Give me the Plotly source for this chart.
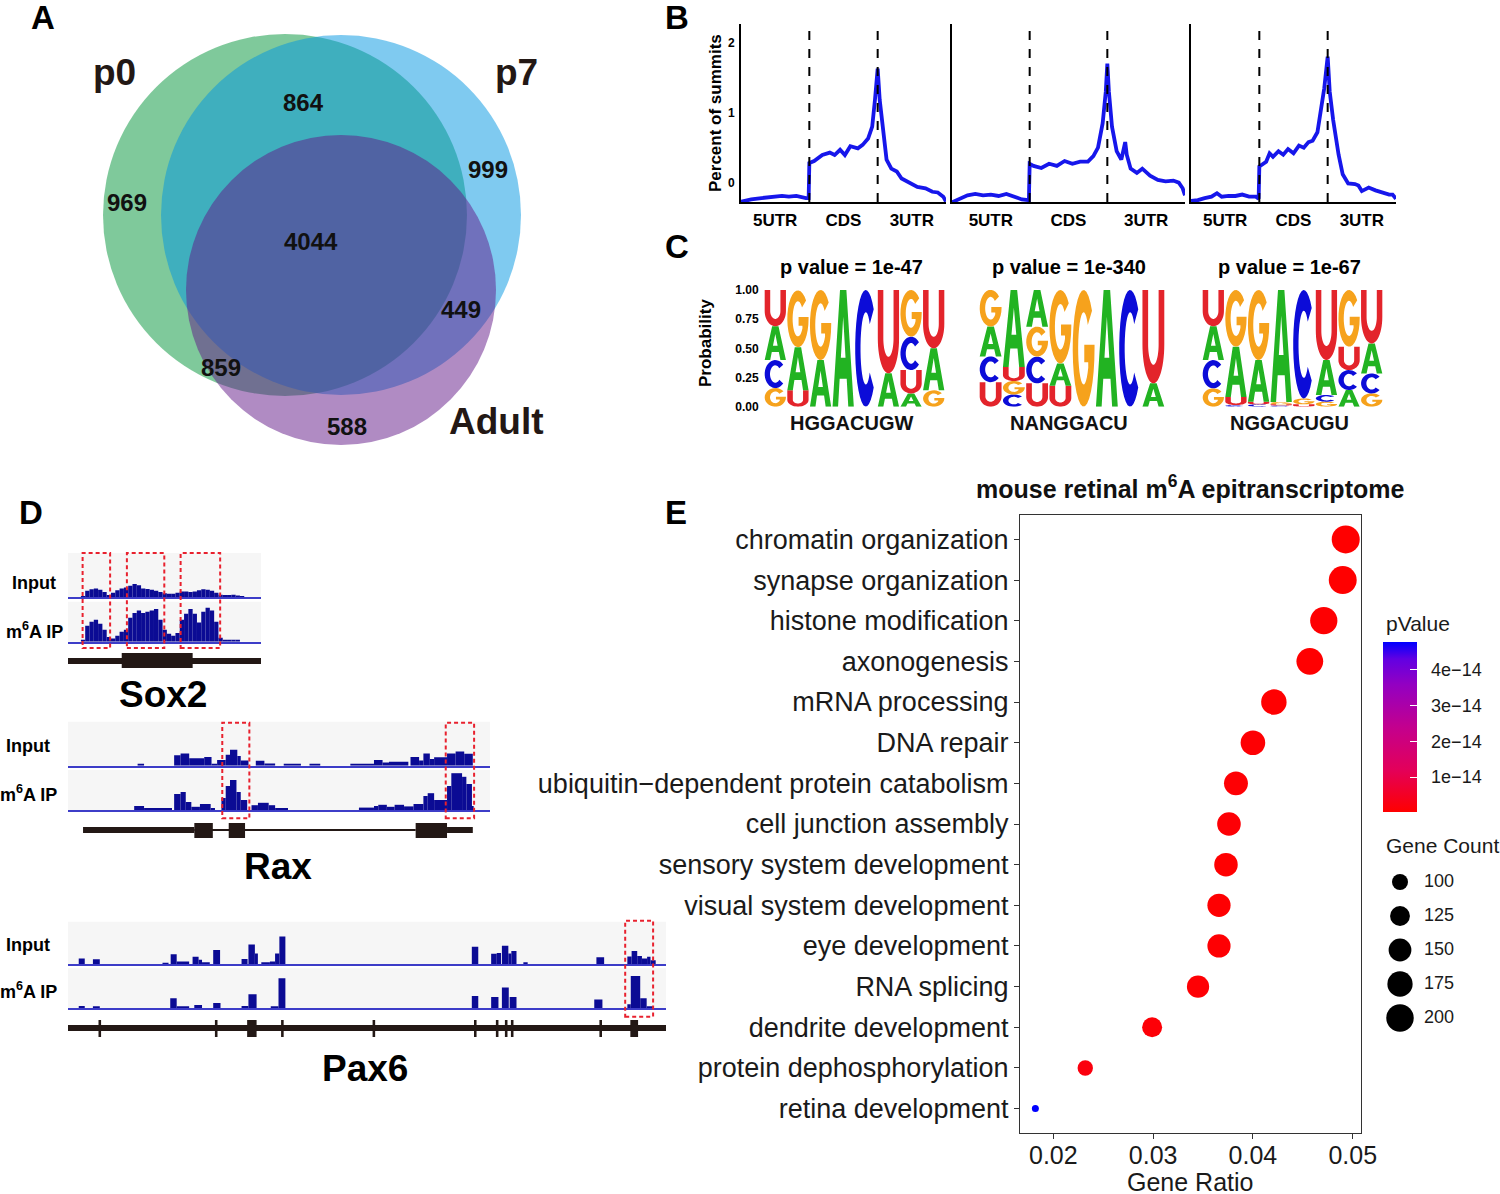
import numpy as np
import plotly.graph_objects as go

W, H = 1500, 1194
FONT = "Liberation Sans, Arial, Helvetica, sans-serif"

# ======================= DATA =======================
# ---- A: Venn diagram ----
venn_set_labels = ["p0", "p7", "Adult"]
venn_region_names = ["p0 only", "p0 & p7", "p7 only", "all three", "p7 & Adult", "p0 & Adult", "Adult only"]
venn_region_counts = [969, 864, 999, 4044, 449, 859, 588]

# ---- B: metagene distribution of peak summits ----
meta_regions = ["5UTR", "CDS", "3UTR"]
p0_pos = [0.0, 0.04, 0.15, 0.3, 0.45, 0.6, 0.7, 0.81, 0.95, 0.99, 1.0, 1.07, 1.19, 1.3, 1.37, 1.45, 1.52, 1.6, 1.71, 1.78,
          1.86, 1.92, 1.96, 2.0, 2.03, 2.08, 2.13, 2.2, 2.28, 2.35, 2.43, 2.5, 2.58, 2.7, 2.8, 2.88, 2.96, 3.0]
p0_pct = [-0.27, -0.26, -0.24, -0.22, -0.21, -0.19, -0.2, -0.19, -0.22, -0.22, 0.28, 0.31, 0.395, 0.43, 0.395, 0.47, 0.395, 0.52, 0.49, 0.54,
          0.63, 0.8, 1.18, 1.63, 1.18, 0.71, 0.33, 0.2, 0.16, 0.06, 0.015, -0.03, -0.06, -0.08, -0.13, -0.14, -0.2, -0.27]
p7_pos = [0.0, 0.1, 0.2, 0.3, 0.4, 0.5, 0.6, 0.7, 0.8, 0.9, 0.99, 1.0, 1.05, 1.15, 1.25, 1.35, 1.45, 1.55, 1.65, 1.75,
          1.82, 1.88, 1.94, 1.98, 2.0, 2.02, 2.06, 2.12, 2.18, 2.21, 2.23, 2.25, 2.3, 2.38, 2.45, 2.55, 2.65, 2.75, 2.85, 2.92,
          2.97, 3.0]
p7_pct = [-0.28, -0.23, -0.18, -0.16, -0.18, -0.17, -0.19, -0.16, -0.2, -0.24, -0.25, 0.27, 0.24, 0.21, 0.27, 0.24, 0.31, 0.27, 0.3, 0.3,
          0.38, 0.5, 0.85, 1.3, 1.7, 1.3, 0.8, 0.45, 0.33, 0.45, 0.58, 0.4, 0.2, 0.14, 0.2, 0.1, 0.04, 0.02, 0.03, 0.0,
          -0.08, -0.18]
adult_pos = [0.0, 0.1, 0.2, 0.3, 0.38, 0.45, 0.55, 0.65, 0.75, 0.85, 0.95, 0.99, 1.0, 1.05, 1.1, 1.15, 1.2, 1.28, 1.35, 1.42,
             1.5, 1.58, 1.65, 1.72, 1.78, 1.85, 1.9, 1.95, 2.0, 2.03, 2.08, 2.12, 2.16, 2.22, 2.3, 2.4, 2.45, 2.5, 2.6, 2.7,
             2.8, 2.9, 2.95, 3.0]
adult_pct = [-0.26, -0.25, -0.22, -0.2, -0.15, -0.2, -0.19, -0.19, -0.17, -0.2, -0.2, -0.23, 0.23, 0.26, 0.3, 0.42, 0.37, 0.45, 0.4, 0.48,
             0.42, 0.53, 0.5, 0.58, 0.6, 0.72, 1.0, 1.35, 1.8, 1.3, 0.9, 0.6, 0.4, 0.12, -0.01, -0.02, -0.04, -0.12, -0.07, -0.11,
             -0.14, -0.17, -0.17, -0.23]

# ---- C: motif logos (probability per position) ----
motif_pvalues = ["1e-47", "1e-340", "1e-67"]
motif_consensus = ["HGGACUGW", "NANGGACU", "NGGACUGU"]
logo1_A = [0.29, 0.37, 0.40, 1.00, 0.00, 0.286, 0.114, 0.36]
logo1_C = [0.24, 0.00, 0.00, 0.00, 1.00, 0.00, 0.286, 0.00]
logo1_G = [0.16, 0.486, 0.60, 0.00, 0.00, 0.00, 0.40, 0.14]
logo1_U = [0.31, 0.14, 0.00, 0.00, 0.00, 0.714, 0.20, 0.50]
logo2_A = [0.257, 0.66, 0.314, 0.19, 0.00, 1.00, 0.00, 0.20]
logo2_C = [0.22, 0.105, 0.229, 0.00, 0.00, 0.00, 1.00, 0.00]
logo2_G = [0.314, 0.115, 0.257, 0.63, 1.00, 0.00, 0.00, 0.00]
logo2_U = [0.21, 0.12, 0.20, 0.18, 0.00, 0.00, 0.00, 0.80]
logo3_A = [0.29, 0.43, 0.357, 0.96, 0.00, 0.30, 0.143, 0.257]
logo3_C = [0.243, 0.014, 0.02, 0.01, 0.93, 0.057, 0.171, 0.171]
logo3_G = [0.157, 0.486, 0.60, 0.02, 0.05, 0.043, 0.486, 0.114]
logo3_U = [0.31, 0.07, 0.023, 0.01, 0.02, 0.60, 0.20, 0.543]

# ---- D: coverage tracks (relative genomic position, normalised depth) ----
sox2_len = 449
sox2_bin = 10
sox2_input = [0, 0, 0, 0.03, 0.15, 0.18, 0.2, 0.17, 0.12, 0.05, 0.1, 0.16, 0.2, 0.22, 0.26, 0.3, 0.27, 0.2, 0.19, 0.17,
              0.15, 0.12, 0.09, 0.08, 0.08, 0.1, 0.13, 0.13, 0.12, 0.13, 0.16, 0.18, 0.17, 0.15, 0.1, 0.06, 0.05, 0.05, 0.06, 0.04,
              0.02, 0, 0, 0, 0]
sox2_ip = [0, 0, 0, 0.05, 0.4, 0.5, 0.55, 0.45, 0.3, 0.12, 0.08, 0.15, 0.25, 0.3, 0.6, 0.72, 0.78, 0.72, 0.75, 0.78,
           0.82, 0.55, 0.3, 0.2, 0.15, 0.22, 0.55, 0.7, 0.82, 0.7, 0.48, 0.75, 0.85, 0.78, 0.5, 0.1, 0.05, 0.05, 0.04, 0.03,
           0, 0, 0, 0, 0]
sox2_utr = [(0, 449)]
sox2_cds = [(125, 290)]
sox2_peaks = [(34, 98), (137, 224), (262, 354)]

rax_len = 982
rax_input_start = [162, 247, 262, 282, 317, 334, 347, 367, 377, 394, 402, 437, 457, 502, 562, 657, 712, 732, 747, 797,
                   817, 827, 842, 852, 882, 902, 922]
rax_input_end = [177, 262, 282, 317, 334, 347, 367, 377, 394, 402, 420, 457, 482, 542, 587, 712, 732, 747, 792, 817,
                 827, 842, 852, 882, 902, 922, 942]
rax_input_depth = [0.04, 0.24, 0.28, 0.17, 0.2, 0.03, 0.13, 0.25, 0.36, 0.22, 0.12, 0.11, 0.05, 0.04, 0.03, 0.04, 0.13, 0.07, 0.09, 0.2,
                   0.12, 0.28, 0.15, 0.19, 0.28, 0.32, 0.27]
rax_ip_start = [154, 177, 247, 262, 274, 287, 307, 332, 357, 367, 377, 392, 402, 427, 442, 467, 482, 677, 712, 722,
                742, 760, 782, 804, 827, 837, 852, 882, 892, 917, 927, 940]
rax_ip_end = [177, 242, 262, 274, 287, 307, 332, 342, 367, 377, 392, 402, 417, 442, 467, 482, 512, 712, 722, 742,
              760, 782, 804, 827, 837, 852, 882, 892, 917, 927, 940, 944]
rax_ip_depth = [0.1, 0.04, 0.4, 0.45, 0.2, 0.08, 0.15, 0.04, 0.3, 0.6, 0.75, 0.45, 0.25, 0.12, 0.18, 0.12, 0.04, 0.06, 0.1, 0.13,
                0.08, 0.13, 0.09, 0.15, 0.35, 0.42, 0.25, 0.6, 0.92, 0.83, 0.65, 0.1]
rax_utr = [(35, 294), (882, 942)]
rax_intron = [(294, 809)]
rax_exons = [(294, 337), (374, 412), (809, 882)]
rax_peaks = [(359, 422), (879, 945)]

pax6_len = 1392
pax6_input_start = [25, 58, 220, 239, 253, 290, 304, 312, 338, 404, 420, 435, 450, 470, 482, 492, 940, 985, 998, 1010,
                    1025, 1032, 1060, 1230, 1302, 1312, 1325, 1336, 1348, 1356]
pax6_input_end = [39, 74, 234, 253, 282, 304, 312, 330, 354, 418, 435, 442, 470, 482, 492, 506, 955, 998, 1008, 1025,
                  1032, 1044, 1070, 1248, 1312, 1325, 1336, 1348, 1356, 1368]
pax6_input_depth = [0.13, 0.11, 0.03, 0.23, 0.06, 0.17, 0.1, 0.04, 0.33, 0.12, 0.46, 0.25, 0.04, 0.06, 0.25, 0.65, 0.41, 0.24, 0.26, 0.43,
                    0.25, 0.31, 0.04, 0.16, 0.18, 0.31, 0.19, 0.13, 0.17, 0.09]
pax6_ip_start = [25, 58, 238, 253, 294, 338, 404, 420, 472, 490, 940, 985, 1010, 1028, 1225, 1302, 1310, 1332, 1347]
pax6_ip_end = [39, 74, 253, 282, 312, 355, 420, 439, 490, 506, 955, 1002, 1026, 1044, 1244, 1310, 1332, 1347, 1364]
pax6_ip_depth = [0.06, 0.05, 0.25, 0.05, 0.08, 0.13, 0.06, 0.35, 0.04, 0.75, 0.31, 0.28, 0.52, 0.28, 0.22, 0.1, 0.81, 0.25, 0.05]
pax6_line = [(0, 1392)]
pax6_exons = [(71, 77), (342, 348), (417, 439), (496, 502), (709, 715), (945, 951), (996, 1002), (1017, 1023),
              (1031, 1037), (1237, 1243), (1309, 1327)]
pax6_peaks = [(1297, 1362)]

# ---- E: GO enrichment ----
go_terms = ["chromatin organization", "synapse organization", "histone modification", "axonogenesis",
            "mRNA processing", "DNA repair", "ubiquitin\u2212dependent protein catabolism", "cell junction assembly",
            "sensory system development", "visual system development", "eye development", "RNA splicing",
            "dendrite development", "protein dephosphorylation", "retina development"]
gene_ratio = [0.0493, 0.0490, 0.0471, 0.0457, 0.0421, 0.0400, 0.0383, 0.0376, 0.0373, 0.0366, 0.0366, 0.0345,
              0.0299, 0.0232, 0.0182]
gene_count = [207, 206, 198, 192, 177, 168, 161, 158, 157, 154, 154, 145, 126, 97, 76]
p_value = [3.1e-16, 2.8e-16, 5.2e-16, 3.5e-16, 4.1e-16, 6.3e-16, 7.5e-16, 9.8e-16, 4.4e-16, 5.6e-16, 6.1e-16,
           8.2e-16, 1.2e-15, 2.1e-15, 4.77e-14]
pvalue_ticks = [1e-14, 2e-14, 3e-14, 4e-14]
pvalue_ticktext = ["1e\u221214", "2e\u221214", "3e\u221214", "4e\u221214"]
count_breaks = [100, 125, 150, 175, 200]

# ======================= HELPERS =======================
def X(px):
    return px / W

def Y(py):
    return 1 - py / H

def dom_x(a, b):
    return [a / W, b / W]

def dom_y(top, bottom):
    return [1 - bottom / H, 1 - top / H]

def xr(n):
    return "x" if n == 1 else f"x{n}"

def yr(n):
    return "y" if n == 1 else f"y{n}"

def xk(n):
    return "xaxis" if n == 1 else f"xaxis{n}"

def yk(n):
    return "yaxis" if n == 1 else f"yaxis{n}"

fig = go.Figure()
shapes = []
annotations = []
layout = {}

def ann(text, x, y, size, bold=False, color="black", xanchor="center", yanchor="middle", angle=0):
    annotations.append(dict(text=(f"<b>{text}</b>" if bold else text), x=X(x), y=Y(y), xref="paper", yref="paper",
                            showarrow=False, xanchor=xanchor, yanchor=yanchor, textangle=angle,
                            font=dict(size=size, color=color, family=FONT)))

# panel letters
for lab, (lx, ly) in zip("ABCDE", [(43, 18), (677, 18), (677, 246), (31, 512), (676, 513)]):
    ann(lab, lx, ly, 33, bold=True)

# ======================= A: VENN =======================
venn_circles = [  # (cx, cy, rx, ry) in pixels, colour
    ((285, 215, 182, 181), "rgba(0,147,55,0.5)"),
    ((341, 215, 180, 180), "rgba(0,149,225,0.5)"),
    ((341, 290, 155, 155), "rgba(97,23,135,0.5)"),
]
for (cx, cy, rx, ry), col in venn_circles:
    shapes.append(dict(type="circle", xref="paper", yref="paper", x0=X(cx - rx), x1=X(cx + rx),
                       y0=Y(cy + ry), y1=Y(cy - ry), fillcolor=col, line=dict(width=0), layer="above"))
venn_label_pos = [(115, 72), (516, 72), (496, 421)]
for lab, (lx, ly) in zip(venn_set_labels, venn_label_pos):
    ann(lab, lx, ly, 37, bold=True, color="#231815")
venn_count_pos = [(127, 202), (303, 102), (488, 170), (311, 241), (461, 309), (221, 367), (347, 426)]
for cnt, (lx, ly) in zip(venn_region_counts, venn_count_pos):
    ann(str(cnt), lx, ly, 24, bold=True, color="#111")

# ======================= B: METAGENE =======================
B_LINE = "rgb(22,22,235)"
b_axes = [(3, (741, 946), p0_pos, p0_pct), (4, (952, 1185), p7_pos, p7_pct), (5, (1191, 1396), adult_pos, adult_pct)]
for n, (xa, xb), xs, ys in b_axes:
    fig.add_trace(go.Scatter(x=xs, y=ys, mode="lines", line=dict(color=B_LINE, width=3.8),
                             xaxis=xr(n), yaxis=yr(n), hoverinfo="skip", cliponaxis=False))
    layout[xk(n)] = dict(domain=dom_x(xa, xb), range=[0, 3], anchor=yr(n), showline=True, linecolor="black",
                         linewidth=2, showgrid=False, zeroline=False, tickvals=[0.5, 1.5, 2.5], ticktext=meta_regions,
                         ticks="outside", ticklen=2, tickcolor="rgba(0,0,0,0)", automargin=False,
                         tickfont=dict(size=17, color="black", family=FONT, weight="bold"))
    layout[yk(n)] = dict(domain=dom_y(24, 202), range=[-0.276, 2.267], anchor=xr(n), showline=True,
                         linecolor="black", linewidth=2, showgrid=False, zeroline=False, tickvals=[0, 1, 2],
                         showticklabels=(n == 3), ticks="outside", ticklen=2, tickcolor="rgba(0,0,0,0)",
                         automargin=False, tickfont=dict(size=12, color="black", family=FONT, weight="bold"))
    for bx in (1, 2):
        shapes.append(dict(type="line", xref=xr(n), yref=f"{yr(n)} domain", x0=bx, x1=bx, y0=0, y1=0.96,
                           line=dict(color="black", width=2, dash="dash")))
ann("Percent of summits", 716, 113, 17, bold=True, angle=-90)

# ======================= C: LOGOS =======================
def arc(cx, cy, rx, ry, a0, a1, n=28):
    t = np.radians(np.linspace(a0, a1, n))
    return list(zip(cx + rx * np.cos(t), cy + ry * np.sin(t)))

GLYPHS = {
    "A": [[(0, 0), (0.35, 1), (0.65, 1), (1, 0), (0.74, 0), (0.665, 0.24), (0.335, 0.24), (0.26, 0)],
          [(0.39, 0.42), (0.61, 0.42), (0.5, 0.77)]],
    "C": [arc(0.5, 0.5, 0.5, 0.5, 42, 318) + arc(0.5, 0.5, 0.25, 0.31, 318, 42)],
    "G": [arc(0.5, 0.5, 0.5, 0.5, 40, 360) + [(1, 0.53), (0.53, 0.53), (0.53, 0.38), (0.71, 0.38)]
          + arc(0.5, 0.5, 0.25, 0.31, 328, 40)],
    "U": [[(0, 1)] + arc(0.5, 0.42, 0.5, 0.42, 180, 360) + [(1, 1), (0.74, 1)]
          + arc(0.5, 0.42, 0.24, 0.22, 360, 180) + [(0.26, 1)]],
}
LOGO_COL = {"A": "#22b322", "C": "#0c0cd8", "G": "#f6a21c", "U": "#e3242b"}

def glyph_path(letter, x0, x1, y0, y1):
    parts = []
    for poly in GLYPHS[letter]:
        pts = [(x0 + u * (x1 - x0), y0 + v * (y1 - y0)) for u, v in poly]
        parts.append("M " + " L ".join(f"{a:.4f},{b:.5f}" for a, b in pts) + " Z")
    return " ".join(parts)

logos = [
    (6, (764, 945), {"A": logo1_A, "C": logo1_C, "G": logo1_G, "U": logo1_U}),
    (7, (979, 1165), {"A": logo2_A, "C": logo2_C, "G": logo2_G, "U": logo2_U}),
    (8, (1202, 1383), {"A": logo3_A, "C": logo3_C, "G": logo3_G, "U": logo3_U}),
]
for k, (n, (xa, xb), probs) in enumerate(logos):
    npos = len(probs["A"])
    fig.add_trace(go.Scatter(x=[1, npos], y=[0, 1], mode="markers", marker=dict(opacity=0),
                             xaxis=xr(n), yaxis=yr(n), hoverinfo="skip"))
    layout[xk(n)] = dict(domain=dom_x(xa, xb), range=[0.5, npos + 0.5], anchor=yr(n), visible=False,
                         automargin=False)
    layout[yk(n)] = dict(domain=dom_y(290, 406.7), range=[0, 1], anchor=xr(n), showline=False,
                         showgrid=False, zeroline=False, showticklabels=(k == 0), automargin=False,
                         tickvals=[0, 0.25, 0.5, 0.75, 1], ticktext=["0.00", "0.25", "0.50", "0.75", "1.00"],
                         ticks="outside", ticklen=2, tickcolor="rgba(0,0,0,0)",
                         tickfont=dict(size=12, color="black", family=FONT, weight="bold"))
    for i in range(npos):
        col = sorted(((probs[L][i], L) for L in "ACGU"), key=lambda t: t[0])
        base = 0.0
        for p, L in col:
            if p <= 0:
                continue
            shapes.append(dict(type="path", xref=xr(n), yref=yr(n),
                               path=glyph_path(L, i + 1 - 0.47, i + 1 + 0.47, base, base + p),
                               fillcolor=LOGO_COL[L], line=dict(width=0)))
            base += p
    cx = (xa + xb) / 2
    ann(f"p value = {motif_pvalues[k]}", cx - 3, 267, 20, bold=True)
    ann(motif_consensus[k], cx - 3, 423, 20, bold=True, color="#111")
ann("Probability", 706, 343, 17, bold=True, angle=-90)

# ======================= D: TRACKS =======================
COV = "#0b0b94"
BASE = "#3d3dc8"
GENE = "#231815"
PEAK = "#e8212e"

def add_track(n, xdom, ydom, length, starts, ends, depth):
    centers = [(s + e) / 2 for s, e in zip(starts, ends)]
    widths = [e - s for s, e in zip(starts, ends)]
    fig.add_trace(go.Bar(x=centers, y=depth, width=widths, marker=dict(color=COV, line=dict(width=0)),
                         xaxis=xr(n), yaxis=yr(n), hoverinfo="skip"))
    layout[xk(n)] = dict(domain=dom_x(*xdom), range=[0, length], anchor=yr(n), showline=True, linecolor=BASE,
                         linewidth=1.5, showticklabels=False, ticks="", showgrid=False, zeroline=False,
                         automargin=False)
    layout[yk(n)] = dict(domain=dom_y(*ydom), range=[0, 1], anchor=xr(n), visible=False, automargin=False)
    shapes.append(dict(type="rect", xref=f"{xr(n)} domain", yref=f"{yr(n)} domain", x0=0, x1=1, y0=0, y1=1,
                       fillcolor="#f6f6f6", line=dict(width=0), layer="below"))

def gene_rects(n, segs, ytop, ybot):
    for s, e in segs:
        shapes.append(dict(type="rect", xref=xr(n), yref="paper", x0=s, x1=e, y0=Y(ybot), y1=Y(ytop),
                           fillcolor=GENE, line=dict(width=0)))

def peak_boxes(n, segs, ytop, ybot):
    for s, e in segs:
        shapes.append(dict(type="rect", xref=xr(n), yref="paper", x0=s, x1=e, y0=Y(ybot), y1=Y(ytop),
                           fillcolor="rgba(0,0,0,0)", line=dict(color=PEAK, width=2, dash="4px,3px")))

# Sox2
sox2_start = [i * sox2_bin for i in range(len(sox2_input))]
sox2_end = [s + sox2_bin for s in sox2_start]
add_track(9, (68, 261), (553, 597.3), sox2_len, sox2_start, sox2_end, sox2_input)
add_track(10, (68, 261), (601.7, 641.7), sox2_len, sox2_start, sox2_end, sox2_ip)
gene_rects(10, sox2_utr, 658, 664)
gene_rects(10, sox2_cds, 653, 668)
peak_boxes(10, sox2_peaks, 553, 648)
ann("Input", 34, 583, 18, bold=True)
ann("m<sup>6</sup>A IP", 34, 630, 18, bold=True)
ann("Sox2", 163, 694, 37, bold=True)

# Rax
add_track(11, (68, 490), (721.7, 765.7), rax_len, rax_input_start, rax_input_end, rax_input_depth)
add_track(12, (68, 490), (770, 810), rax_len, rax_ip_start, rax_ip_end, rax_ip_depth)
gene_rects(12, rax_intron, 829, 831)
gene_rects(12, rax_utr, 827, 833)
gene_rects(12, rax_exons, 823, 838)
peak_boxes(12, rax_peaks, 722.7, 818.3)
ann("Input", 28, 746, 18, bold=True)
ann("m<sup>6</sup>A IP", 28, 793, 18, bold=True)
ann("Rax", 278, 866, 37, bold=True)

# Pax6
add_track(13, (68, 666), (921.7, 964), pax6_len, pax6_input_start, pax6_input_end, pax6_input_depth)
add_track(14, (68, 666), (968.3, 1008.3), pax6_len, pax6_ip_start, pax6_ip_end, pax6_ip_depth)
gene_rects(14, pax6_line, 1025, 1031)
gene_rects(14, pax6_exons, 1020, 1037)
peak_boxes(14, pax6_peaks, 920.7, 1016.7)
ann("Input", 28, 945, 18, bold=True)
ann("m<sup>6</sup>A IP", 28, 990, 18, bold=True)
ann("Pax6", 365, 1068, 37, bold=True)

# ======================= E: GO DOT PLOT =======================
cmin_c, cmax_c = min(gene_count), max(gene_count)

def dot_diameter(c):
    return 7 + 21 * np.sqrt(max(c - cmin_c, 0) / (cmax_c - cmin_c))

NBSP = "\u00a0\u00a0"
colorscale = [[0.0, "#ff0000"], [0.25, "#e3005a"], [0.5, "#c3008e"], [0.75, "#9300c2"], [0.9, "#6200e2"],
              [1.0, "#0000ff"]]
fig.add_trace(go.Scatter(
    x=gene_ratio, y=go_terms, mode="markers", xaxis="x", yaxis="y", hoverinfo="skip", cliponaxis=False,
    marker=dict(size=[dot_diameter(c) for c in gene_count], color=p_value, cmin=min(p_value), cmax=max(p_value),
                colorscale=colorscale, opacity=1, line=dict(width=0), showscale=True,
                colorbar=dict(thickness=34, thicknessmode="pixels", len=170, lenmode="pixels",
                              x=X(1383), xanchor="left", y=Y(812), yanchor="bottom", xpad=0, ypad=0,
                              outlinewidth=0, tickvals=pvalue_ticks, ticktext=[NBSP + t for t in pvalue_ticktext],
                              ticks="inside", ticklen=7, tickcolor="white", tickwidth=1,
                              tickfont=dict(size=18, color="#1a1a1a", family=FONT), title=dict(text="")))))
layout["xaxis"] = dict(domain=dom_x(1020, 1361), range=[0.01666, 0.05083], anchor="y", automargin=False,
                       tickvals=[0.02, 0.03, 0.04, 0.05], ticktext=["0.02", "0.03", "0.04", "0.05"],
                       ticks="outside", ticklen=5, tickwidth=1.3, tickcolor="#333", showline=True, mirror=True,
                       linecolor="#333", linewidth=1.3, showgrid=False, zeroline=False, ticklabelstandoff=-5,
                       tickfont=dict(size=25, color="#1a1a1a", family=FONT))
layout["yaxis"] = dict(domain=dom_y(515, 1133), type="category", categoryorder="array", categoryarray=go_terms,
                       range=[len(go_terms) - 0.4, -0.6], anchor="x", ticks="outside", ticklen=5, tickwidth=1.3,
                       tickcolor="#333", showline=True, mirror=True, linecolor="#333", linewidth=1.3,
                       showgrid=False, zeroline=False, automargin=False,
                       tickfont=dict(size=27, color="#1a1a1a", family=FONT))
ann("Gene Ratio", 1190, 1182, 25, color="#1a1a1a")
ann("mouse retinal m<sup>6</sup>A epitranscriptome", 1190, 487, 25, bold=True, color="#111")
ann("pValue", 1384, 623, 21, color="#1a1a1a", xanchor="left")
ann("Gene Count", 1384, 845, 21, color="#1a1a1a", xanchor="left")

# size legend (drawn from count_breaks through the same size function)
fig.add_trace(go.Scatter(x=[20] * len(count_breaks), y=list(range(len(count_breaks))), mode="markers",
                         marker=dict(size=[dot_diameter(c) for c in count_breaks], color="black", opacity=1,
                                     line=dict(width=0)),
                         xaxis="x2", yaxis="y2", hoverinfo="skip", cliponaxis=False))
fig.add_trace(go.Scatter(x=[44] * len(count_breaks), y=list(range(len(count_breaks))), mode="text",
                         text=[str(c) for c in count_breaks], textposition="middle right",
                         textfont=dict(size=18, color="#1a1a1a", family=FONT),
                         xaxis="x2", yaxis="y2", hoverinfo="skip", cliponaxis=False))
layout["xaxis2"] = dict(domain=dom_x(1380, 1480), range=[0, 100], anchor="y2", visible=False, automargin=False)
layout["yaxis2"] = dict(domain=dom_y(865, 1035), range=[len(count_breaks) - 0.5, -0.5], anchor="x2",
                        visible=False, automargin=False)

fig.update_layout(width=W, height=H, margin=dict(l=0, r=0, t=0, b=0, autoexpand=False), paper_bgcolor="white",
                  plot_bgcolor="white", showlegend=False, font=dict(family=FONT, color="black"),
                  shapes=shapes, annotations=annotations, **layout)

fig.write_html("out.html", include_plotlyjs=True, full_html=True, config={"displayModeBar": False},
               post_script="document.documentElement.style.overflow='hidden';"
                           "document.body.style.overflow='hidden';document.body.style.margin='0px';")
